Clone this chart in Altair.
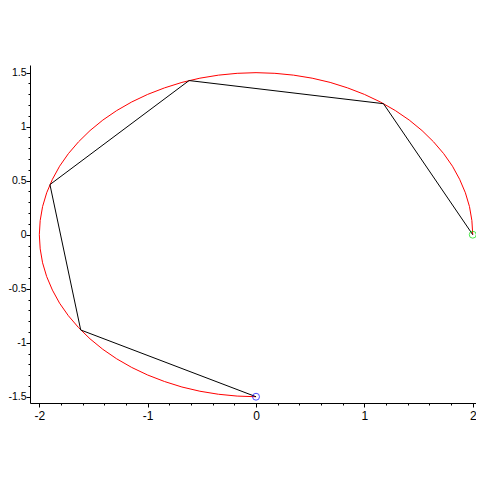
import altair as alt
import pandas as pd

# Red curve: points read along the ellipse (x, y)
curve_x = [2.000, 1.992, 1.970, 1.932, 1.879, 1.813, 1.732, 1.638, 1.532, 1.414,
           1.286, 1.147, 1.000, 0.845, 0.684, 0.518, 0.347, 0.174, 0.000,
           -0.174, -0.347, -0.518, -0.684, -0.845, -1.000, -1.147, -1.286, -1.414,
           -1.532, -1.638, -1.732, -1.813, -1.879, -1.932, -1.970, -1.992, -2.000,
           -1.992, -1.970, -1.932, -1.879, -1.813, -1.732, -1.638, -1.532, -1.414,
           -1.286, -1.147, -1.000, -0.845, -0.684, -0.518, -0.347, -0.174, 0.000]
curve_y = [0.000, 0.131, 0.260, 0.388, 0.513, 0.634, 0.750, 0.860, 0.964, 1.061,
           1.149, 1.229, 1.299, 1.359, 1.410, 1.449, 1.477, 1.494, 1.500,
           1.494, 1.477, 1.449, 1.410, 1.359, 1.299, 1.229, 1.149, 1.061,
           0.964, 0.860, 0.750, 0.634, 0.513, 0.388, 0.260, 0.131, 0.000,
           -0.131, -0.260, -0.388, -0.513, -0.634, -0.750, -0.860, -0.964, -1.061,
           -1.149, -1.229, -1.299, -1.359, -1.410, -1.449, -1.477, -1.494, -1.500]

# Black polygon vertices
poly_x = [2.000, 1.176, -0.618, -1.902, -1.618, 0.000]
poly_y = [0.000, 1.213, 1.427, 0.464, -0.882, -1.500]

# End markers
start_pt = {"x": [2.0], "y": [0.0]}
end_pt = {"x": [0.0], "y": [-1.5]}

x_ticks = [-2.0, -1.8, -1.6, -1.4, -1.2, -1.0, -0.8, -0.6, -0.4, -0.2, 0.0,
           0.2, 0.4, 0.6, 0.8, 1.0, 1.2, 1.4, 1.6, 1.8, 2.0]
y_ticks = [-1.5, -1.4, -1.3, -1.2, -1.1, -1.0, -0.9, -0.8, -0.7, -0.6, -0.5,
           -0.4, -0.3, -0.2, -0.1, 0.0, 0.1, 0.2, 0.3, 0.4, 0.5, 0.6, 0.7,
           0.8, 0.9, 1.0, 1.1, 1.2, 1.3, 1.4, 1.5]

curve_df = pd.DataFrame({"x": curve_x, "y": curve_y, "i": list(range(len(curve_x)))})
poly_df = pd.DataFrame({"x": poly_x, "y": poly_y, "i": list(range(len(poly_x)))})
start_df = pd.DataFrame(start_pt)
end_df = pd.DataFrame(end_pt)

xmaj = "abs(datum.value - round(datum.value)) < 0.001"
ymaj = "abs(datum.value*2 - round(datum.value*2)) < 0.001"

x_axis = alt.Axis(
    values=x_ticks, tickCount=100, title=None, grid=False,
    domainColor="black", tickColor="black", labelColor="black",
    tickSize={"condition": {"test": xmaj, "value": 4}, "value": 2},
    labelExpr=f"{xmaj} ? '' + round(datum.value*10)/10 : ''",
    labelOverlap=False, labelFlush=False,
    labelFont="Liberation Sans", labelFontSize=12, labelPadding=3,
)
y_axis = alt.Axis(
    values=y_ticks, tickCount=100, title=None, grid=False,
    domainColor="black", tickColor="black", labelColor="black",
    tickSize={"condition": {"test": ymaj, "value": 4}, "value": 2},
    labelExpr=f"{ymaj} ? '' + round(datum.value*10)/10 : ''",
    labelOverlap=False, labelFlush=False,
    labelFont="Liberation Sans", labelFontSize=10.5, labelPadding=0,
)

xs = alt.Scale(domain=[-2.086, 2.030], nice=False, zero=False)
ys = alt.Scale(domain=[-1.558, 1.571], nice=False, zero=False)

curve = alt.Chart(curve_df).mark_line(color="#ff0000", strokeWidth=1).encode(
    x=alt.X("x:Q", scale=xs, axis=x_axis),
    y=alt.Y("y:Q", scale=ys, axis=y_axis),
    order="i:Q",
)
poly = alt.Chart(poly_df).mark_line(color="black", strokeWidth=1).encode(
    x="x:Q", y="y:Q", order="i:Q"
)
p_start = alt.Chart(start_df).mark_point(shape="circle", filled=False, color="#00dd00",
                                         size=48, strokeWidth=1).encode(x="x:Q", y="y:Q")
p_end = alt.Chart(end_df).mark_point(shape="circle", filled=False, color="#0000ff",
                                     size=48, strokeWidth=1).encode(x="x:Q", y="y:Q")

chart = alt.layer(curve, poly, p_start, p_end).properties(
    width=446, height=338,
    background="white",
    autosize=alt.AutoSizeParams(type="none"),
    padding={"left": 22, "top": 57, "right": 0, "bottom": 60},
).configure_view(strokeWidth=0)

chart.save("out.html", embed_options={"renderer": "svg", "actions": False})
